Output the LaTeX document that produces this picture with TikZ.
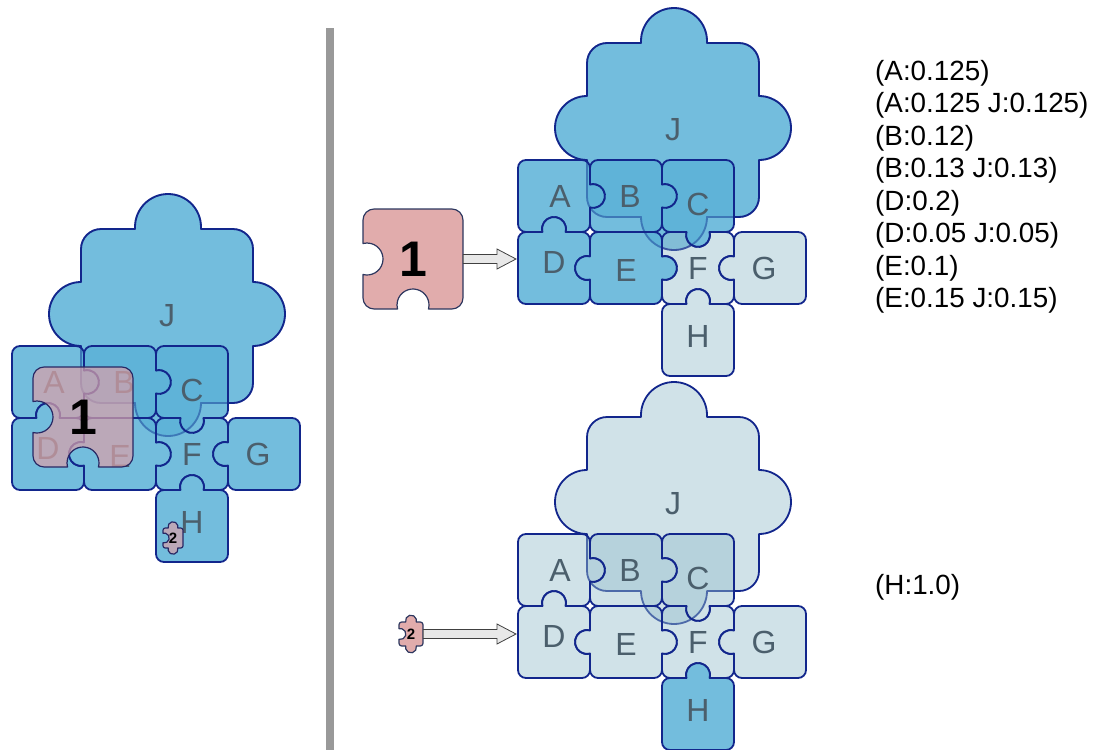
\documentclass[tikz,border=0pt]{standalone}
\usepackage{fontspec}
\setmainfont{Liberation Sans}
\usepackage{xcolor}
\usetikzlibrary{calc}

\definecolor{navy}{RGB}{18,38,140}
\definecolor{skyfill}{RGB}{91,177,215}
\definecolor{palefill}{RGB}{150,190,205}
\definecolor{pinkfill}{RGB}{225,172,172}
\definecolor{pinkline}{RGB}{45,55,95}
\definecolor{mauvefill}{RGB}{215,160,170}
\definecolor{mauveline}{RGB}{40,40,100}
\definecolor{labelgray}{RGB}{75,95,108}
\definecolor{dividergray}{RGB}{153,153,153}

% one side of a piece: mid x, mid y, outward angle, tab (1) / notch (-1) / flat (0), tab radius
\newcommand\pside[5]{\ifnum#4=0 \else -- ({#1+0.968*#5*cos(#3-90)},{#2+0.968*#5*sin(#3-90)}) arc[start angle={#3-90-(#4)*14.48},end angle={#3-90+(#4)*194.48},radius=#5] \fi}
% piece: x y size tabradius top right bottom left
\newcommand\piece[8]{({#1},{#2+#3/9}) arc[start angle=180,end angle=270,radius={#3/9}]
  \pside{#1+#3/2}{#2}{270}{#5}{#4}
  -- ({#1+#3-#3/9},{#2}) arc[start angle=270,end angle=360,radius={#3/9}]
  \pside{#1+#3}{#2+#3/2}{0}{#6}{#4}
  -- ({#1+#3},{#2+#3-#3/9}) arc[start angle=0,end angle=90,radius={#3/9}]
  \pside{#1+#3/2}{#2+#3}{90}{#7}{#4}
  -- ({#1+#3/9},{#2+#3}) arc[start angle=90,end angle=180,radius={#3/9}]
  \pside{#1}{#2+#3/2}{180}{#8}{#4}
  -- cycle}
% the cloud J
\newcommand\cloud{(69,-97) arc[start angle=180,end angle=270,radius=20] -- (123,-117) -- (123,-119)
  arc[start angle=180,end angle=360,radius=33] -- (189,-117) -- (221,-117)
  arc[start angle=270,end angle=360,radius=20] -- (241,-64)
  arc[start angle=270,end angle=450,radius=32] -- (241,37)
  arc[start angle=0,end angle=90,radius=20] -- (189,57)
  arc[start angle=0,end angle=180,radius=33] -- (89,57)
  arc[start angle=90,end angle=180,radius=20] -- (69,0)
  arc[start angle=90,end angle=270,radius=32] -- cycle}
% whole puzzle, #1 = name prefix
\newcommand\puzzle[1]{%
  \draw[jstyle] \cloud;
  \draw[astyle] \piece{0}{0}{72}{12}{0}{1}{-1}{0};
  \draw[bstyle] \piece{72}{0}{72}{12}{0}{1}{0}{-1};
  \draw[cstyle] \piece{144}{0}{72}{12}{0}{0}{1}{-1};
  \draw[dstyle] \piece{0}{72}{72}{12}{1}{-1}{0}{0};
  \draw[estyle] \piece{72}{72}{72}{12}{0}{1}{0}{1};
  \draw[fstyle] \piece{144}{72}{72}{12}{-1}{-1}{-1}{-1};
  \draw[gstyle] \piece{216}{72}{72}{12}{0}{0}{0}{1};
  \draw[hstyle] \piece{144}{144}{72}{12}{1}{0}{0}{0};
  \path[jtop] \cloud;
  \node[letter] (#1-J) at (155,-30) {J};
  \node[letter] (#1-A) at (42,36) {A};
  \node[letter] (#1-B) at (112,36) {B};
  \node[letter] (#1-C) at (180,44) {C};
  \node[letter] (#1-D) at (36,102) {D};
  \node[letter] (#1-E) at (108,110) {E};
  \node[letter] (#1-F) at (180,108) {F};
  \node[letter] (#1-G) at (246,108) {G};
  \node[letter] (#1-H) at (180,176) {H};
  \coordinate (#1-in) at (-2,99);
}
\newcommand\blockarrow[2]{\draw[blockarrow] ($(#1)+(0,-4.5)$) -- ($(#2|-#1)+(-19,-4.5)$) -- ($(#2|-#1)+(-19,-10)$)
  -- (#2|-#1) -- ($(#2|-#1)+(-19,10)$) -- ($(#2|-#1)+(-19,4.5)$) -- ($(#1)+(0,4.5)$) -- cycle;}

\begin{document}
\begin{tikzpicture}[x=1pt,y=-1pt,
  onpiece/.style={draw=navy,line width=1.8pt,line join=round,fill=skyfill,fill opacity=0.85},
  offpiece/.style={draw=navy,line width=1.8pt,line join=round,fill=palefill,fill opacity=0.45},
  jstyle/.style=onpiece,astyle/.style=onpiece,bstyle/.style=onpiece,cstyle/.style=onpiece,
  dstyle/.style=onpiece,estyle/.style=onpiece,fstyle/.style=onpiece,gstyle/.style=onpiece,
  hstyle/.style=onpiece,
  jtop/.style={draw=navy,draw opacity=0.3,line width=1.8pt},
  pinkpiece/.style={draw=pinkline,line width=1.2pt,line join=round,fill=pinkfill},
  overpiece/.style={draw=mauveline,line width=1.2pt,line join=round,fill=mauvefill,fill opacity=0.72},
  letter/.style={text=labelgray,font=\fontsize{32}{32}\selectfont,inner sep=0pt},
  bignum/.style={font=\fontsize{50}{50}\selectfont\bfseries,inner sep=0pt,minimum size=100pt},
  smallnum/.style={font=\fontsize{15}{15}\selectfont\bfseries,inner sep=0pt,minimum size=24pt},
  blockarrow/.style={draw=black!75,fill=black!9,line width=0.8pt,line join=miter},
  scores/.style={font=\fontsize{27.8}{32.5}\selectfont,align=left,inner sep=0pt},
  divider/.style={draw=dividergray,line width=8pt}]

  \useasboundingbox (0,0) rectangle (1096,750);

  % left: piece 1 and piece 2 laid over the puzzle
  \begin{scope}[shift={(12,346)}]
    \puzzle{L}
  \end{scope}
  \draw[overpiece] \piece{33}{367}{100}{16}{0}{0}{-1}{-1};
  \node[bignum] (oneL) at (83,417) {1};
  \draw[overpiece] \piece{163}{528}{20}{5}{1}{0}{1}{-1};
  \node[smallnum,minimum size=20pt] (twoL) at (173,538) {2};

  \draw[divider] (330,28) -- (330,750);

  % top right: piece 1 goes in
  \begin{scope}[shift={(518,160)},fstyle/.style=offpiece,gstyle/.style=offpiece,hstyle/.style=offpiece]
    \puzzle{T}
  \end{scope}
  \draw[pinkpiece] \piece{363}{209}{100}{16}{0}{0}{-1}{-1};
  \node[bignum] (one) at (413,259) {1};
  \blockarrow{one.east}{T-in}

  % bottom right: piece 2 goes in
  \begin{scope}[shift={(518,534)},jstyle/.style=offpiece,astyle/.style=offpiece,bstyle/.style=offpiece,
    cstyle/.style=offpiece,dstyle/.style=offpiece,estyle/.style=offpiece,fstyle/.style=offpiece,
    gstyle/.style=offpiece,jtop/.style={}]
    \puzzle{U}
  \end{scope}
  \draw[pinkpiece] \piece{399}{622}{24}{5.5}{1}{0}{1}{-1};
  \node[smallnum] (two) at (411,634) {2};
  \blockarrow{two.east}{U-in}

  % scores
  \node[scores,anchor=north west] (scoresT) at (875,60) {(A:0.125)\\(A:0.125 J:0.125)\\(B:0.12)\\(B:0.13 J:0.13)\\(D:0.2)\\(D:0.05 J:0.05)\\(E:0.1)\\(E:0.15 J:0.15)};
  \node[scores,anchor=west] (scoresU) at (875,587) {(H:1.0)};
\end{tikzpicture}
\end{document}
